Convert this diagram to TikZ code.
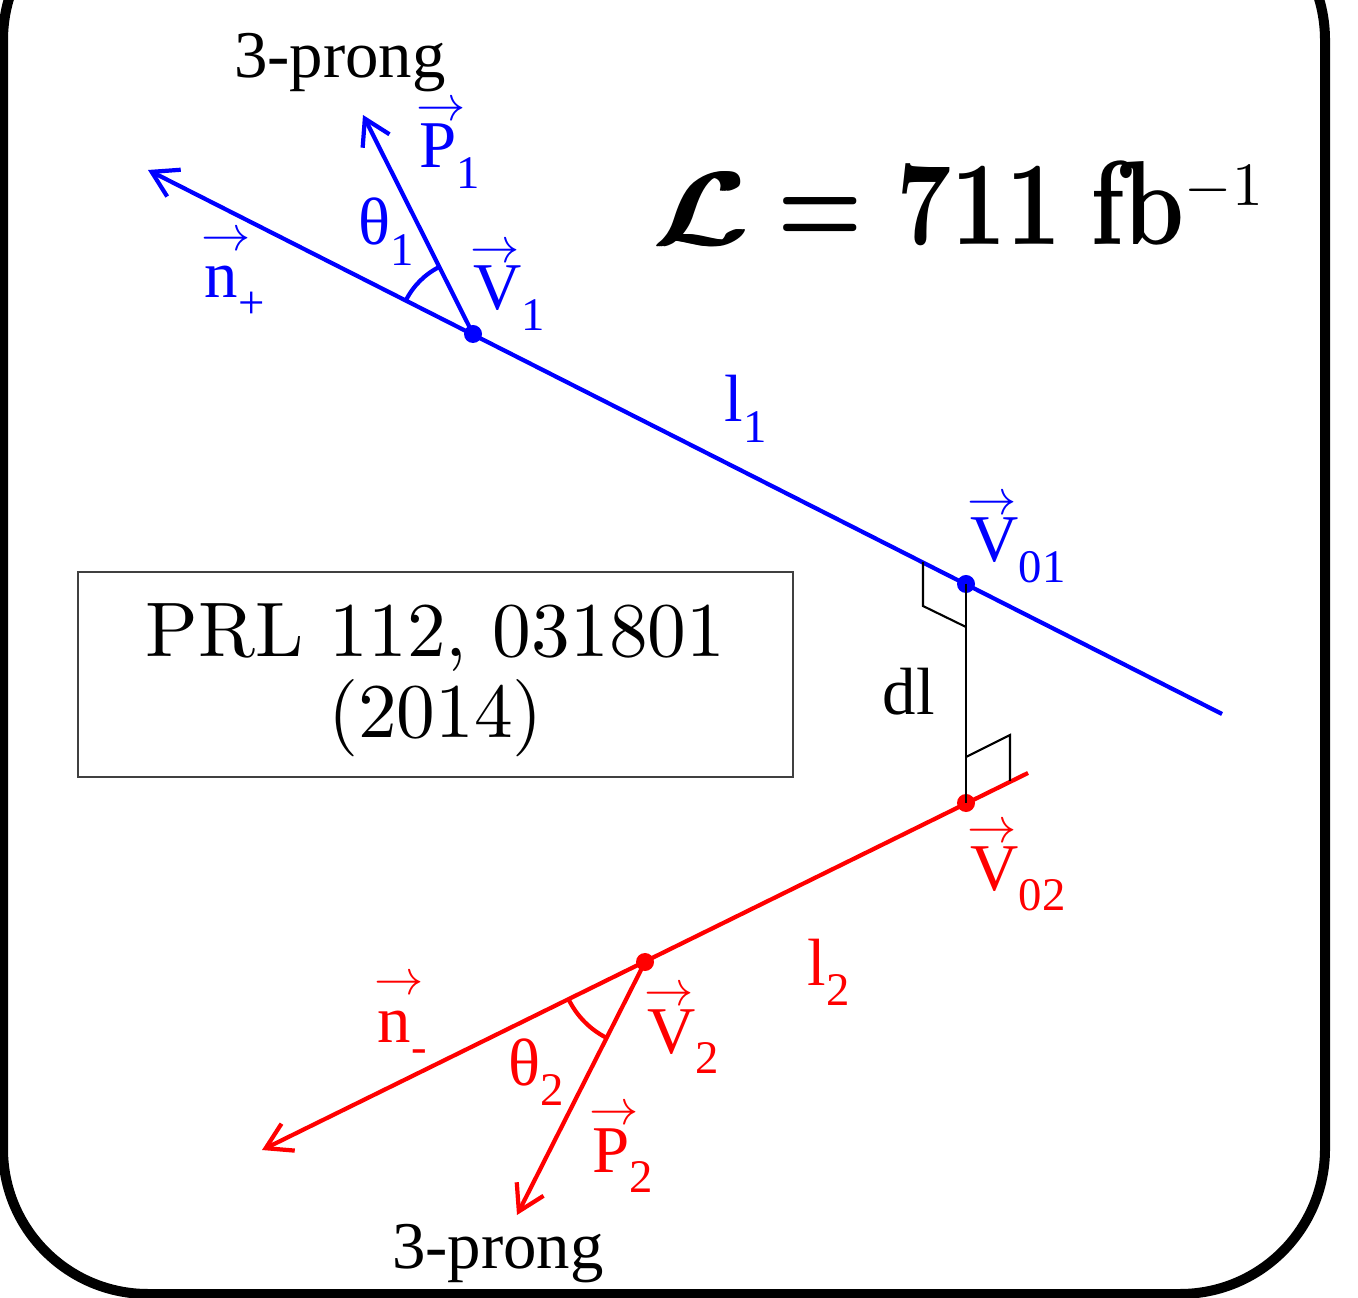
\documentclass[tikz,border=0pt]{standalone}
\usepackage{amsmath}
\usepackage{graphicx}
\usepackage{fontspec}
\newfontfamily\labfont{Liberation Serif}
\newfontfamily\tenrm{lmroman10-regular.otf}
\newfontfamily\tenbf{lmroman10-bold.otf}
\usetikzlibrary{arrows.meta,angles}

% vector label with subscript, and plain label with subscript
\newcommand{\vlab}[2]{\rlap{\kern-1pt\raisebox{13.4pt}{\resizebox{14pt}{!}{$\rightarrow$}}}#1\raisebox{-0.3em}{\fontsize{13.3}{14}\selectfont #2}}
\newcommand{\slab}[2]{#1\raisebox{-0.3em}{\fontsize{13.3}{14}\selectfont #2}}
% poor man's bold for the script L
\newcommand{\heavy}[1]{\rlap{#1}\kern0.6pt\rlap{#1}\kern0.6pt\rlap{#1}\kern0.6pt#1}

\begin{document}
\begin{tikzpicture}[x=0.01cm, y=-0.01cm,
  lab/.style={font=\labfont\fontsize{19}{23}\selectfont, inner sep=0pt, anchor=base west},
  bl/.style={blue, line width=1.2pt},
  rd/.style={red, line width=1.2pt},
  tip/.style={-{Straight Barb[length=2.5mm, width=3mm]}},
  rmark/.style={black, line width=0.6pt}]

\useasboundingbox (0,0) rectangle (1358,1298);

% outer frame
\draw[line width=0.1cm, rounded corners=1.45cm] (3,-105) rectangle (1325,1294);

% tau+ side (blue)
\coordinate (Nplus) at (148,170);
\coordinate (Bend) at (1222,714);
\coordinate (P1) at (363,115);
\coordinate (V1) at (473,334);
\coordinate (V01) at (966,584);
\draw[bl, tip] (Bend) -- (Nplus);
\draw[bl, tip] (V1) -- (P1);
\pic[draw=blue, line width=1.2pt, angle radius=0.75cm] {angle = P1--V1--Nplus};
\fill[blue] (V1) circle[radius=0.09cm];
\fill[blue] (V01) circle[radius=0.09cm];

% tau- side (red)
\coordinate (Nminus) at (262,1150);
\coordinate (Rend) at (1028,773);
\coordinate (P2) at (517,1215);
\coordinate (V2) at (645,962);
\coordinate (V02) at (966,803);
\draw[rd, tip] (Rend) -- (Nminus);
\draw[rd, tip] (V2) -- (P2);
\pic[draw=red, line width=1.2pt, angle radius=0.85cm] {angle = Nminus--V2--P2};
\fill[red] (V2) circle[radius=0.09cm];
\fill[red] (V02) circle[radius=0.09cm];

% distance of closest approach
\draw[rmark] (V01) -- (V02);
\draw[rmark] (923,562) -- (923,606) -- (966,627);
\draw[rmark] (966,757) -- (1010,735) -- (1010,781);

% labels
\node[lab, anchor=base] (prongA) at (340,78) {3-prong};
\node[lab, anchor=base] (prongB) at (498,1268) {3-prong};
\node[lab, blue] (lP1) at (419,168) {\vlab{P}{1}};
\node[lab, blue] (lth1) at (358,245) {\slab{θ}{1}};
\node[lab, blue] (lnp) at (204,298) {\vlab{n}{+}};
\node[lab, blue] (lV1) at (473,310) {\vlab{V}{1}};
\node[lab, blue] (ll1) at (724,422) {\slab{l}{1}};
\node[lab, blue] (lV01) at (970,562) {\vlab{V}{01}};
\node[lab] (ldl) at (882,715) {dl};
\node[lab, red] (lV02) at (970,890) {\vlab{V}{02}};
\node[lab, red] (ll2) at (807,985) {\slab{l}{2}};
\node[lab, red] (lnm) at (377,1042) {\vlab{n}{-}};
\node[lab, red] (lth2) at (508,1085) {\slab{θ}{2}};
\node[lab, red] (lV2) at (647,1053) {\vlab{V}{2}};
\node[lab, red] (lP2) at (592,1172) {\vlab{P}{2}};

% luminosity
\node[anchor=base west, inner sep=0pt, font=\tenbf\fontsize{34}{34}\selectfont] (lumi) at (652,245)
  {\heavy{\scalebox{1.5}[1.18]{\fontsize{24.88}{25}\selectfont$\mathcal{L}$}}\hspace{8pt}\scalebox{0.8}[1]{=\hspace{12pt}711\hspace{10pt}fb}\raisebox{11.3pt}{\tenrm\fontsize{17.5}{18}\selectfont$-$1}};

% reference box
\node[draw=black!75, line width=0.5pt, minimum width=7.15cm, minimum height=2.05cm,
  align=center, font=\tenrm\fontsize{22}{21.8}\selectfont] (ref) at (435.5,674.5)
  {\raisebox{-0.07cm}[\height][\depth]{\begin{tabular}{@{}c@{}}PRL 112, 031801\\(2014)\end{tabular}}};
\end{tikzpicture}
\end{document}
